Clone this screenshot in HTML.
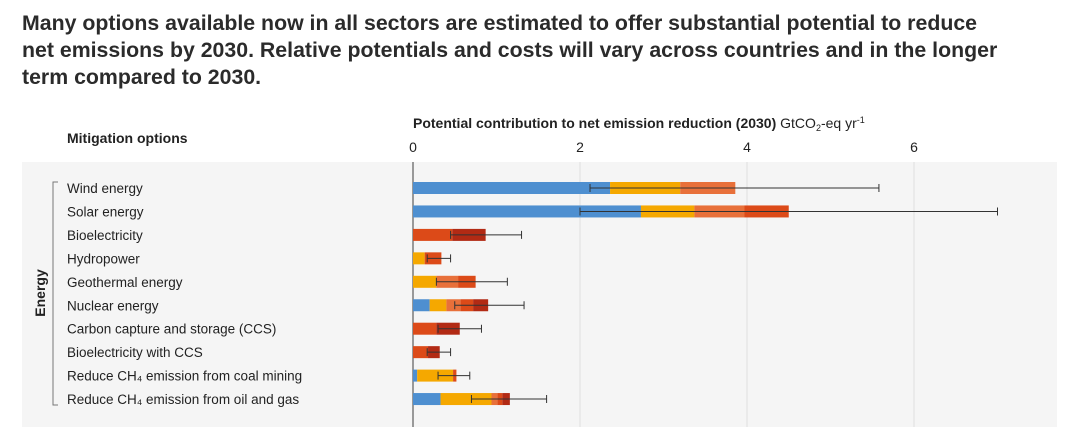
<!DOCTYPE html>
<html><head><meta charset="utf-8"><style>
body{margin:0;width:1075px;height:427px;background:#fff;font-family:"Liberation Sans",sans-serif;overflow:hidden;position:relative}
#title{position:absolute;left:22px;top:10px;font-size:21.3px;font-weight:bold;color:#2b2b2b;line-height:27px;letter-spacing:0px}
</style></head><body>
<div id="title">Many options available now in all sectors are estimated to offer substantial potential to reduce<br>net emissions by 2030. Relative potentials and costs will vary across countries and in the longer<br>term compared to 2030.</div>
<svg id="c" width="1075" height="427" style="position:absolute;left:0;top:0"></svg>
<script>
const categories=["Wind energy","Solar energy","Bioelectricity","Hydropower","Geothermal energy","Nuclear energy","Carbon capture and storage (CCS)","Bioelectricity with CCS","Reduce CH₄ emission from coal mining","Reduce CH₄ emission from oil and gas"];
const costBlue=[2.36,2.73,0,0,0,0.2,0,0,0.05,0.33];
const costOrange=[0.84,0.64,0,0.14,0.28,0.2,0,0,0.43,0.61];
const costLightRed=[0.66,0.6,0,0,0.26,0.17,0,0,0,0.07];
const costRed=[0,0.53,0.47,0.2,0.21,0.15,0.28,0.18,0.04,0.06];
const costDarkRed=[0,0,0.4,0,0,0.18,0.28,0.14,0,0.09];
const errLow=[2.12,2.0,0.45,0.17,0.28,0.5,0.3,0.17,0.3,0.7];
const errHigh=[5.58,7.0,1.3,0.45,1.13,1.33,0.82,0.45,0.68,1.6];
const ticks=[0,2,4,6];
const NS="http://www.w3.org/2000/svg",svg=document.getElementById('c');
const x=v=>413+v*83.5, y=i=>188+i*23.45;
function mk(t,a){const e=document.createElementNS(NS,t);for(const k in a)e.setAttribute(k,a[k]);svg.appendChild(e);return e;}
let e=mk('rect',{x:22,y:162,width:1035,height:265,fill:'#f5f5f5'});

e=mk('text',{x:67,y:143,'font-size':14,'font-weight':'bold',fill:'#222'});e.textContent='Mitigation options';

e=mk('text',{x:413,y:128,'font-size':14,fill:'#222'});
e.innerHTML='<tspan font-weight="bold">Potential contribution to net emission reduction (2030)</tspan> GtCO<tspan font-size="9" dy="3">2</tspan><tspan dy="-3">-eq yr</tspan><tspan font-size="9" dy="-5">-1</tspan>';

ticks.forEach(t=>{
 if(t>0){e=mk('line',{x1:x(t),x2:x(t),y1:162,y2:427,stroke:'#dedede'});
 }
 e=mk('text',{x:x(t),y:152,'font-size':14,fill:'#222','text-anchor':'middle'});e.textContent=t;
 
});
e=mk('line',{x1:413,x2:413,y1:162,y2:427,stroke:'#999','stroke-width':2});

e=mk('path',{d:'M58,182 H53 V405 H58',stroke:'#777',fill:'none'});

e=mk('text',{x:0,y:0,'font-size':14,'font-weight':'bold',fill:'#222','text-anchor':'middle',transform:'translate(45,293) rotate(-90)'});e.textContent='Energy';

const series=[[costBlue,'#4e8fd0'],[costOrange,'#f5a800'],[costLightRed,'#e8703a'],[costRed,'#dc4a18'],[costDarkRed,'#b22a14']];
categories.forEach((c,i)=>{
 const cy=y(i);
 e=mk('text',{x:67,y:cy+5,'font-size':13.5,fill:'#222'});e.textContent=c;
 
 let acc=0;
 series.forEach(([arr,col])=>{const v=arr[i];if(v>0){
  e=mk('rect',{x:x(acc),y:cy-6,width:x(acc+v)-x(acc),height:12,fill:col});
  
  acc+=v;}});
 e=mk('path',{d:`M${x(errLow[i])},${cy} H${x(errHigh[i])} M${x(errLow[i])},${cy-4} v8 M${x(errHigh[i])},${cy-4} v8`,stroke:'#333','stroke-width':1,fill:'none'});
 
});
</script>
</body></html>
